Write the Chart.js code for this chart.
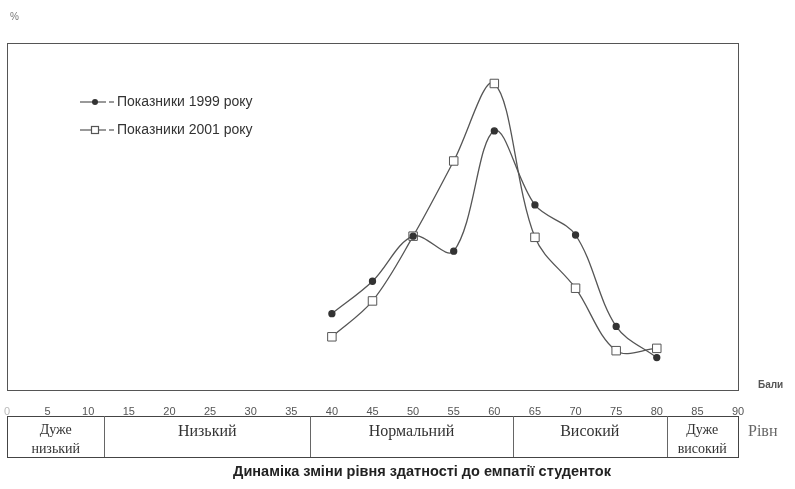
<!DOCTYPE html><html><head>
    <title>Динаміка зміни рівня здатності до емпатії студенток</title>
    <style>
        body { margin: 0; background: #ffffff; }
    </style>
</head>
<body>
    <canvas id="chart" width="795" height="489"></canvas>
    <script src="https://cdn.jsdelivr.net/npm/chart.js"></script>
    <script>
        // бали (x) та відсотки студенток
        const scores = [40, 45, 50, 55, 60, 65, 70, 75, 80];
        const pct1999 = [6.6, 9.4, 13.3, 12.0, 22.4, 16.0, 13.4, 5.5, 2.8];
        const pct2001 = [4.6, 7.7, 13.3, 19.8, 26.5, 13.2, 8.8, 3.4, 3.6];
        const seriesNames = ['Показники 1999 року', 'Показники 2001 року'];

        // рівні та їх межі в балах
        const levelNames = [['Дуже', 'низький'], ['Низький'], ['Нормальний'], ['Високий'], ['Дуже', 'високий']];
        const levelBounds = [0, 12, 37.3, 62.3, 81.2, 90];

        const sans = "'Liberation Sans', Arial, sans-serif";
        const serif = "'Liberation Serif', 'Times New Roman', serif";

        function toPoints(vals) {
            return scores.map((s, i) => ({ x: s, y: vals[i] }));
        }

        const extras = {
            id: 'extras',
            beforeDatasetsDraw(chart) {
                const ctx = chart.ctx, a = chart.chartArea;
                ctx.save();
                ctx.strokeStyle = '#555';
                ctx.lineWidth = 1;
                ctx.strokeRect(a.left + 0.5, a.top + 0.5, a.right - a.left, a.bottom - a.top);
                ctx.restore();
            },
            afterDraw(chart) {
                const ctx = chart.ctx, a = chart.chartArea, xs = chart.scales.x;
                ctx.save();

                // легенда всередині поля графіка
                chart.data.datasets.forEach((ds, i) => {
                    const y = 102 + i * 28;
                    ctx.strokeStyle = '#555';
                    ctx.lineWidth = 1.2;
                    ctx.beginPath(); ctx.moveTo(80, y); ctx.lineTo(106, y); ctx.stroke();
                    ctx.beginPath(); ctx.moveTo(109, y); ctx.lineTo(114, y); ctx.stroke();
                    if (i === 0) {
                        ctx.fillStyle = '#333';
                        ctx.beginPath(); ctx.arc(95, y, 3, 0, Math.PI * 2); ctx.fill();
                    } else {
                        ctx.fillStyle = '#fff';
                        ctx.fillRect(91, y - 4, 8, 8);
                        ctx.strokeRect(91.5, y - 3.5, 7, 7);
                    }
                    ctx.fillStyle = '#333';
                    ctx.font = '14px ' + sans;
                    ctx.textAlign = 'left';
                    ctx.textBaseline = 'middle';
                    ctx.fillText(ds.label, 117, y);
                });

                // таблиця рівнів
                const top = 416, bottom = 457;
                ctx.strokeStyle = '#444';
                ctx.lineWidth = 1;
                const l = Math.round(xs.getPixelForValue(levelBounds[0])) + 0.5;
                const r = Math.round(xs.getPixelForValue(levelBounds[levelBounds.length - 1])) + 0.5;
                ctx.strokeRect(l, top + 0.5, r - l, bottom - top);
                for (let i = 0; i < levelNames.length; i++) {
                    const x0 = xs.getPixelForValue(levelBounds[i]);
                    const x1 = xs.getPixelForValue(levelBounds[i + 1]);
                    if (i > 0) {
                        ctx.strokeStyle = '#666';
                        ctx.beginPath();
                        ctx.moveTo(Math.round(x0) + 0.5, top);
                        ctx.lineTo(Math.round(x0) + 0.5, bottom);
                        ctx.stroke();
                    }
                    const lines = levelNames[i];
                    ctx.fillStyle = '#333';
                    ctx.textAlign = 'center';
                    ctx.textBaseline = 'middle';
                    const cx = (x0 + x1) / 2;
                    if (lines.length === 1) {
                        ctx.font = '16px ' + serif;
                        ctx.fillText(lines[0], cx, 432);
                    } else {
                        ctx.font = '14px ' + serif;
                        ctx.fillText(lines[0], cx, 430);
                        ctx.fillText(lines[1], cx, 449);
                    }
                }

                // підписи осей
                ctx.fillStyle = '#777';
                ctx.font = '10px ' + sans;
                ctx.textAlign = 'left';
                ctx.fillText('%', 10, 17);
                ctx.fillStyle = '#555';
                ctx.font = 'bold 10px ' + sans;
                ctx.fillText('Бали', 758, 385);
                ctx.fillStyle = '#666';
                ctx.font = '16px ' + serif;
                ctx.fillText('Рівн', 748, 432);

                // назва
                ctx.fillStyle = '#222';
                ctx.font = 'bold 14.5px ' + sans;
                ctx.textAlign = 'center';
                ctx.fillText('Динаміка зміни рівня здатності до емпатії студенток', 422, 472);
                ctx.restore();
            }
        };

        const data = {
            datasets: [{
                label: seriesNames[0],
                data: toPoints(pct1999),
                borderColor: '#555',
                borderWidth: 1.3,
                pointStyle: 'circle',
                pointRadius: 3,
                pointBackgroundColor: '#333',
                pointBorderColor: '#333',
                tension: 0.35
            }, {
                label: seriesNames[1],
                data: toPoints(pct2001),
                borderColor: '#555',
                borderWidth: 1.3,
                pointStyle: 'rect',
                pointRadius: 6,
                pointBackgroundColor: '#fff',
                pointBorderColor: '#555',
                pointBorderWidth: 1,
                tension: 0.35
            }]
        };

        const options = {
            responsive: false,
            animation: false,
            layout: { padding: { left: 7, right: 57, top: 43, bottom: 0 } },
            plugins: {
                legend: { display: false },
                tooltip: { enabled: false }
            },
            scales: {
                x: {
                    type: 'linear',
                    min: 0,
                    max: 90,
                    grid: { display: false, drawTicks: false },
                    border: { display: false },
                    ticks: {
                        stepSize: 5,
                        padding: 15,
                        maxRotation: 0,
                        autoSkip: false,
                        font: { family: sans, size: 11 },
                        color: (c) => c.tick && c.tick.value === 0 ? '#bbb' : '#555'
                    },
                    afterFit(scale) {
                        scale.height = 99;
                        scale.paddingLeft = 0;
                        scale.paddingRight = 0;
                    }
                },
                y: {
                    display: false,
                    min: 0,
                    max: 30
                }
            }
        };

        new Chart(document.getElementById('chart').getContext('2d'), {
            type: 'line',
            data: data,
            options: options,
            plugins: [extras]
        });
    </script>
</body></html>
